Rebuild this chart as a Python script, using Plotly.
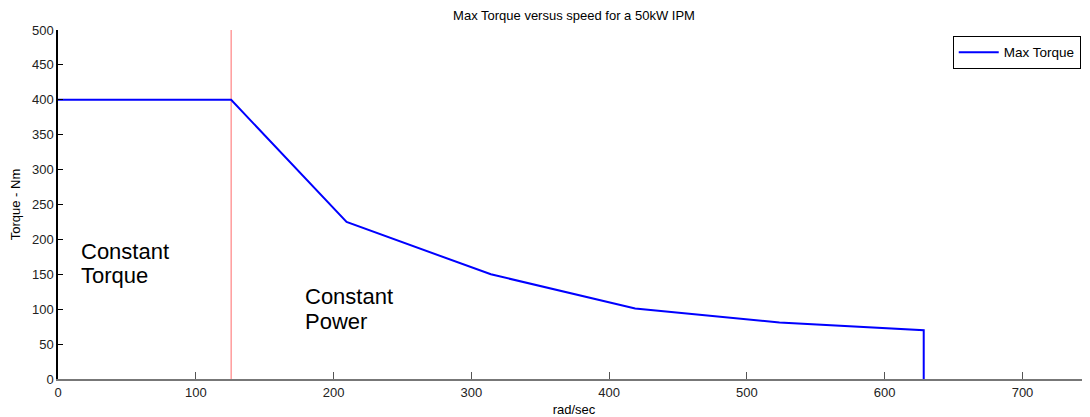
import plotly.graph_objects as go

# Data
speed_rad_s = [0, 125.66, 209.44, 314.16, 418.88, 523.6, 628.32, 628.32]
max_torque_nm = [400, 400, 225, 150, 101, 81, 70, 0]

base_speed = [125.66, 125.66]
base_line_torque = [0, 500]

x_ticks = [0, 100, 200, 300, 400, 500, 600, 700]
y_ticks = [0, 50, 100, 150, 200, 250, 300, 350, 400, 450, 500]

# region labels: (text, x, y)
region_labels = [
    ("Constant", 15, 183),
    ("Torque", 15, 148),
    ("Constant", 178, 118),
    ("Power", 178, 82),
]

FONT = "Liberation Sans, Arial, sans-serif"

fig = go.Figure()
fig.add_trace(go.Scatter(
    x=base_speed, y=base_line_torque, mode="lines",
    line=dict(color="rgba(255,80,80,0.85)", width=1),
    showlegend=False, hoverinfo="skip",
))
fig.add_trace(go.Scatter(
    x=speed_rad_s, y=max_torque_nm, mode="lines", name="Max Torque",
    line=dict(color="#0000ff", width=2),
))

for txt, lx, ly in region_labels:
    fig.add_annotation(x=lx, y=ly, xref="x", yref="y", text=txt,
                       showarrow=False, xanchor="left", yanchor="middle", align="left",
                       font=dict(family=FONT, size=22, color="black"))

fig.update_layout(
    width=1082, height=409,
    margin=dict(l=50, r=0, t=22, b=38),
    paper_bgcolor="white", plot_bgcolor="white",
    font=dict(family=FONT, size=13, color="#222"),
    title=dict(text="Max Torque versus speed for a 50kW IPM", x=0.5, xanchor="center",
               xref="paper", y=1 - 3 / 409, yref="container", yanchor="top",
               pad=dict(t=0, b=0),
               font=dict(family=FONT, size=13, color="black")),
    legend=dict(x=0.867, y=0.983, xanchor="left", yanchor="top",
                bordercolor="black", borderwidth=1, bgcolor="white",
                itemwidth=40, tracegroupgap=0,
                font=dict(family=FONT, size=13.5, color="black")),
    xaxis=dict(range=[0, 749], tickvals=x_ticks, ticks="inside", ticklen=7,
               tickcolor="#555", tickwidth=1, showline=True, linecolor="#777", linewidth=2,
               showgrid=False, zeroline=False, mirror=False, automargin=False,
               title=dict(text="rad/sec", font=dict(family=FONT, size=13, color="black"), standoff=7),
               tickfont=dict(family=FONT, size=13, color="#222")),
    yaxis=dict(range=[0, 500], tickvals=y_ticks, ticks="inside", ticklen=5,
               tickcolor="black", tickwidth=1, showline=True, linecolor="black", linewidth=1.5,
               showgrid=False, zeroline=False, mirror=False, automargin=False,
               title=dict(text="Torque - Nm", font=dict(family=FONT, size=13, color="black"), standoff=9),
               tickfont=dict(family=FONT, size=13, color="#222")),
)

fig.write_html("out.html")
